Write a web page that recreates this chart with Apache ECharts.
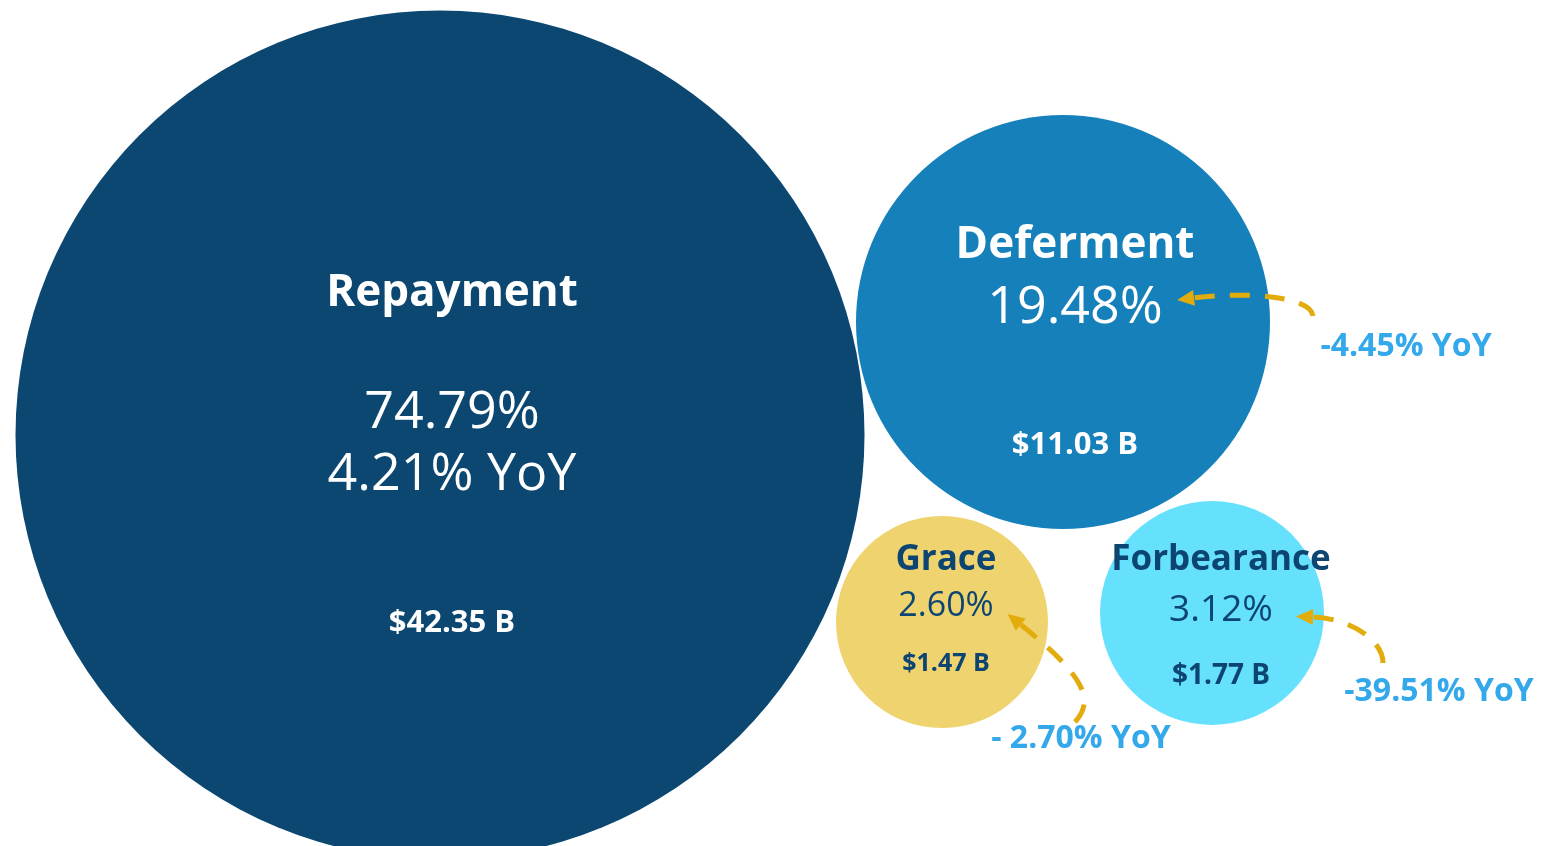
<!DOCTYPE html>
<html>
<head>
<meta charset="utf-8">
<style>
  html, body { margin: 0; padding: 0; background: #fff; }
  #chart { width: 1542px; height: 846px; }
</style>
<script src="https://cdn.jsdelivr.net/npm/echarts@6/dist/echarts.min.js"></script>
</head>
<body>
<div id="chart"></div>
<script>
// values
const categories = ['Repayment', 'Deferment', 'Grace', 'Forbearance']
const shares = [74.79, 19.48, 2.60, 3.12]
const amounts = [42.35, 11.03, 1.47, 1.77]
const yoyText = ['4.21% YoY', '-4.45% YoY', '- 2.70% YoY', '-39.51% YoY']

// layout (axis units = pixels)
const bubbleX = [440, 1063, 942, 1212]
const bubbleY = [435, 322, 622, 613]
const bubbleD = [849, 414, 212, 224]
const colors = ['#0B4770', '#1580BA', '#EFD36E', '#66E1FD']

// title / pct / yoy / amount font sizes and line heights
const labelCfg = [
  { size: [44, 52, 52, 31], lh: [178, 62, 62, 234], off: [12, 37], color: '#ffffff' },
  { size: [44, 52, 0, 31], lh: [66, 60, 0, 214], off: [12, 60], color: '#ffffff' },
  { size: [35, 34, 0, 25], lh: [52, 40, 0, 76], off: [4, -4], color: '#0C4572' },
  { size: [35, 37, 0, 28], lh: [56, 44, 0, 88], off: [9, 13], color: '#0C4572' },
]

// arrow paths: tail, cp1, cp2, end
const arrowPaths = [
  null,
  [[1313, 316], [1311, 297], [1250, 291], [1193, 298]],
  [[1075, 722], [1095, 700], [1085, 676], [1020, 624]],
  [[1383, 663], [1383, 640], [1350, 618], [1312, 617]],
]
const yoyPos = [null, [1406, 347], [1081, 739], [1439, 692]]

const FONT = '"Open Sans", "Noto Sans", sans-serif'

function bubbleLabel(i) {
  const c = labelCfg[i]
  const rich = {
    t: { fontSize: c.size[0], fontWeight: 'bold', lineHeight: c.lh[0], color: c.color, fontFamily: FONT },
    p: { fontSize: c.size[1], fontWeight: 'normal', lineHeight: c.lh[1], color: c.color, fontFamily: FONT },
    y: { fontSize: c.size[2] || 12, fontWeight: 'normal', lineHeight: c.lh[2] || 12, color: c.color, fontFamily: FONT },
    a: { fontSize: c.size[3], fontWeight: 'bold', lineHeight: c.lh[3], color: c.color, fontFamily: FONT },
  }
  const lines = ['{t|' + categories[i] + '}', '{p|' + shares[i].toFixed(2) + '%}']
  if (i === 0) lines.push('{y|' + yoyText[i] + '}')
  lines.push('{a|$' + amounts[i].toFixed(2) + ' B}')
  return {
    show: true,
    position: 'inside',
    offset: c.off,
    align: 'center',
    verticalAlign: 'middle',
    formatter: lines.join('\n'),
    rich: rich,
  }
}

const bubbleData = categories.map((name, i) => ({
  name: name,
  value: [bubbleX[i], bubbleY[i], amounts[i]],
  symbolSize: bubbleD[i],
  itemStyle: { color: colors[i], opacity: 1 },
  label: bubbleLabel(i),
}))

const arrowData = []
for (let i = 1; i < categories.length; i++) {
  arrowData.push([yoyPos[i][0], yoyPos[i][1], i])
}

function renderArrow(params, api) {
  const i = api.value(2)
  const pts = arrowPaths[i].map(p => api.coord(p))
  const [p0, p1, p2, p3] = pts
  let dx = p3[0] - p2[0]
  let dy = p3[1] - p2[1]
  const len = Math.sqrt(dx * dx + dy * dy)
  dx /= len
  dy /= len
  const headL = 16
  const headW = 8
  const tip = [p3[0] + dx * headL, p3[1] + dy * headL]
  const back = [p3[0] - dx * 1, p3[1] - dy * 1]
  const lp = api.coord([api.value(0), api.value(1)])
  return {
    type: 'group',
    children: [
      {
        type: 'bezierCurve',
        shape: {
          x1: p0[0], y1: p0[1],
          cpx1: p1[0], cpy1: p1[1],
          cpx2: p2[0], cpy2: p2[1],
          x2: p3[0], y2: p3[1],
        },
        style: { stroke: '#E2AC0C', lineWidth: 5, fill: null, lineDash: [20, 15] },
      },
      {
        type: 'polygon',
        shape: {
          points: [
            tip,
            [back[0] - dy * headW, back[1] + dx * headW],
            [back[0] + dy * headW, back[1] - dx * headW],
          ],
        },
        style: { fill: '#E2AC0C' },
      },
      {
        type: 'text',
        x: lp[0],
        y: lp[1],
        style: {
          text: yoyText[i],
          fill: '#33A8EA',
          fontSize: 32,
          fontWeight: 'bold',
          fontFamily: FONT,
          align: 'center',
          verticalAlign: 'middle',
        },
      },
    ],
  }
}

const chart = echarts.init(document.getElementById('chart'))
chart.setOption({
  backgroundColor: '#ffffff',
  animation: false,
  grid: { left: 0, right: 0, top: 0, bottom: 0, containLabel: false },
  xAxis: { type: 'value', min: 0, max: 1542, show: false },
  yAxis: { type: 'value', min: 0, max: 846, inverse: true, show: false },
  series: [
    {
      type: 'scatter',
      symbol: 'circle',
      data: bubbleData,
      clip: true,
      z: 2,
    },
    {
      type: 'custom',
      renderItem: renderArrow,
      data: arrowData,
      encode: { x: 0, y: 1 },
      clip: false,
      z: 3,
    },
  ],
})
</script>
</body>
</html>
